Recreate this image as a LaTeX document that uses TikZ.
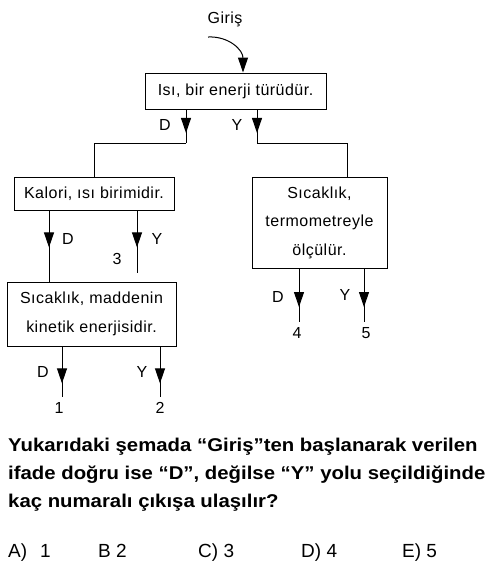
\documentclass[tikz,border=0pt]{standalone}
\usepackage{fontspec}
\setmainfont{Liberation Sans}
\newfontfamily\diagfont[LetterSpace=3]{Liberation Sans}
\newfontfamily\qfont[FakeStretch=1.1]{Liberation Sans}
\usetikzlibrary{arrows.meta,decorations.markings}
\begin{document}
\begin{tikzpicture}[x=1pt,y=-1pt,
 box/.style={draw,line width=1pt,inner sep=0pt,align=center,font=\diagfont\fontsize{16}{28.5}\selectfont},
 lbl/.style={inner sep=0pt,font=\diagfont\fontsize{16}{19}\selectfont},
 qtext/.style={inner sep=0pt,anchor=base west,font=\qfont\bfseries\fontsize{18.5}{22}\selectfont},
 ans/.style={inner sep=0pt,anchor=base west,font=\fontsize{19}{22}\selectfont},
 wire/.style={line width=1pt},
 tip/.style={-{Triangle[width=10pt,length=15pt]}},
 midarrow/.style={decoration={markings,mark=at position #1 with {\arrow{Triangle[width=10pt,length=15pt]}}},postaction={decorate}},
 ]
\useasboundingbox (0,0) rectangle (492,582);
% boxes
\node[lbl] (giris) at (225,19) {Giriş};
\node[box,minimum width=181pt,minimum height=36pt] (b1) at (235.5,91) {Isı, bir enerji türüdür.};
\node[box,minimum width=160pt,minimum height=33pt] (b2) at (94,193.5) {Kalori, ısı birimidir.};
\node[box,minimum width=169pt,minimum height=64pt] (b3) at (91.5,314) {Sıcaklık, maddenin\\kinetik enerjisidir.};
\node[box,minimum width=135pt,minimum height=91pt] (b4) at (319.5,222.5) {Sıcaklık,\\termometreyle\\ölçülür.};
% entry
\coordinate (gs) at (208,37);
\coordinate (ge) at (243,0);
\draw[wire,tip] (gs) .. controls (229,36) and (243,50) .. (ge |- b1.north);
% box 1 outputs
\coordinate (c1d) at (186,143);
\coordinate (c1y) at (257,143);
\coordinate (c4in) at (347,0);
\draw[wire,midarrow=0.7] (c1d |- b1.south) -- (c1d);
\draw[wire] (c1d) -| (b2.north);
\draw[wire,midarrow=0.7] (c1y |- b1.south) -- (c1y);
\draw[wire] (c1y) -| (c4in |- b4.north);
\node[lbl] (d1) at (165,125) {D};
\node[lbl] (y1) at (237,125) {Y};
% box 2 outputs
\coordinate (x2d) at (49,0);
\coordinate (e3) at (137,273);
\draw[wire,midarrow=0.52] (x2d |- b2.south) -- (x2d |- b3.north);
\draw[wire,midarrow=0.59] (e3 |- b2.south) -- (e3);
\node[lbl] (d2) at (68,239) {D};
\node[lbl] (y2) at (157,239) {Y};
\node[lbl] (n3) at (117,259) {3};
% box 3 outputs
\coordinate (e1) at (62,397);
\coordinate (e2) at (160,397);
\draw[wire,midarrow=0.73] (e1 |- b3.south) -- (e1);
\draw[wire,midarrow=0.73] (e2 |- b3.south) -- (e2);
\node[lbl] (d3) at (43,372) {D};
\node[lbl] (y3) at (142,372) {Y};
\node[lbl] (n1) at (59,408) {1};
\node[lbl] (n2) at (160,408) {2};
% box 4 outputs
\coordinate (e4) at (299,322);
\coordinate (e5) at (364,322);
\draw[wire,midarrow=0.72] (e4 |- b4.south) -- (e4);
\draw[wire,midarrow=0.72] (e5 |- b4.south) -- (e5);
\node[lbl] (d4) at (278,297) {D};
\node[lbl] (y4) at (345,295) {Y};
\node[lbl] (n4) at (297,333) {4};
\node[lbl] (n5) at (366,333) {5};
% question
\node[qtext] (q1) at (8,451) {Yukarıdaki şemada “Giriş”ten başlanarak verilen};
\node[qtext] (q2) at (8,479) {ifade doğru ise “D”, değilse “Y” yolu seçildiğinde};
\node[qtext] (q3) at (8,507) {kaç numaralı çıkışa ulaşılır?};
% answers
\node[ans] (aA) at (8,557) {A)};
\node[ans] (a1) at (40,557) {1};
\node[ans] (aB) at (98,557) {B 2};
\node[ans] (aC) at (198,557) {C) 3};
\node[ans] (aD) at (301,557) {D) 4};
\node[ans] (aE) at (402,557) {E) 5};
\end{tikzpicture}
\end{document}
